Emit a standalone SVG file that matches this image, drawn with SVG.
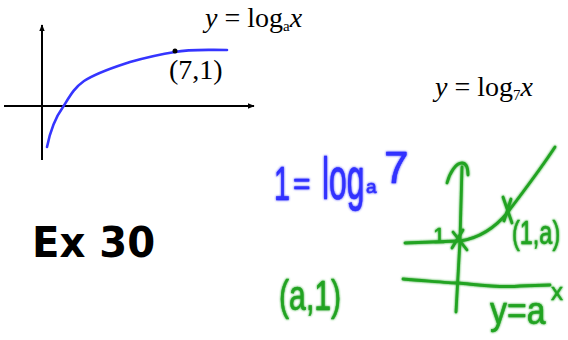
<svg xmlns="http://www.w3.org/2000/svg" width="568" height="340" viewBox="0 0 568 340">
<style>
.ax{stroke:#000;stroke-width:2;fill:none}
.tm{font-family:"Liberation Serif","Times New Roman",serif;font-size:28px;fill:#000}
.blue{stroke:#3535ff;fill:none;stroke-width:2.6;stroke-linecap:round;stroke-linejoin:round}
.grn{stroke:#22a322;fill:none;stroke-width:2.8;stroke-linecap:round;stroke-linejoin:round}
.hb{font-family:"Liberation Sans","DejaVu Sans",sans-serif;fill:#3030ff;stroke:#3030ff;stroke-width:0.5;stroke-linejoin:round}
.hg{font-family:"Liberation Sans","DejaVu Sans",sans-serif;fill:#22a322;stroke:#22a322;stroke-width:0.4;stroke-linejoin:round}
.ex{font-family:"DejaVu Sans","Liberation Sans",sans-serif;font-weight:bold;font-size:42px;fill:#000}
</style>
<defs>
<marker id="arr" viewBox="0 0 10 10" refX="9" refY="5" markerWidth="7" markerHeight="7" orient="auto" markerUnits="userSpaceOnUse">
<path d="M0,1 L10,5 L0,9 Z" fill="#000"/>
</marker>
<filter id="glow" x="-10%" y="-10%" width="120%" height="120%">
<feGaussianBlur in="SourceGraphic" stdDeviation="1.2" result="b"/>
<feMerge><feMergeNode in="b"/><feMergeNode in="SourceGraphic"/></feMerge>
</filter>
</defs>

<g id="graph1">
<line class="ax" x1="42" y1="160" x2="42" y2="25" marker-end="url(#arr)"/>
<line class="ax" x1="4" y1="106" x2="254" y2="106" marker-end="url(#arr)"/>
<path class="blue" d="M47,147 C50,132 55,118 63,107 C70,96 74,88 84,81 C98,72 115,67 130,62 C148,57 162,54 175,52 C190,49 205,50 227,50"/>
<circle cx="175" cy="51" r="2.5" fill="#000"/>
<text class="tm" x="169" y="79">(7,1)</text>
</g>

<g id="label-loga">
<text class="tm" x="205" y="27"><tspan font-style="italic">y</tspan> = log<tspan font-size="15" dy="4">a</tspan><tspan font-style="italic" dy="-4">x</tspan></text>
</g>

<g id="label-log7">
<text class="tm" x="435" y="96"><tspan font-style="italic">y</tspan> = log<tspan font-size="15" dy="4">7</tspan><tspan font-style="italic" dy="-4">x</tspan></text>
</g>

<g id="ex30">
<text class="ex" transform="translate(32,257) scale(0.957,1)">Ex 30</text>
</g>

<g id="blue-eq" filter="url(#glow)">
<text class="hb" font-size="48" transform="translate(274,200) scale(0.6,1)">1</text>
<text class="hb" x="293" y="194" font-size="30">=</text>
<text class="hb" font-size="60" transform="translate(322,199) scale(0.53,1)">log</text>
<text class="hb" x="366" y="193" font-size="19">a</text>
<text class="hb" x="384" y="183" font-size="44">7</text>
</g>

<g id="green-sketch" filter="url(#glow)">
<path class="grn" d="M462,167 L460,240 L456,312"/>
<path class="grn" d="M447,183 C450,172 456,163 462,163 C466,163 468,168 468,175"/>
<path class="grn" d="M405,243 L458,241"/>
<path class="grn" d="M453,232 L467,250 M463,230 L452,248"/>
<path class="grn" d="M460,241 C480,238 495,228 508,212 C520,196 540,170 555,147"/>
<path class="grn" d="M503,197 L512,223 M511,199 L504,221"/>
<path class="grn" d="M403,279 C430,281 450,283 458,283 C480,285 500,288 520,286 L550,285"/>
<text class="hg" x="433" y="243" font-size="22">1</text>
<text class="hg" font-size="34" transform="translate(512,244) scale(0.69,1)">(1,a)</text>
<text class="hg" font-size="42" transform="translate(279,310) scale(0.72,1)">(a,1)</text>
<text class="hg" font-size="38" transform="translate(490,324) scale(0.89,1)">y=a</text>
<text class="hg" x="551" y="300" font-size="24">x</text>
</g>
</svg>
